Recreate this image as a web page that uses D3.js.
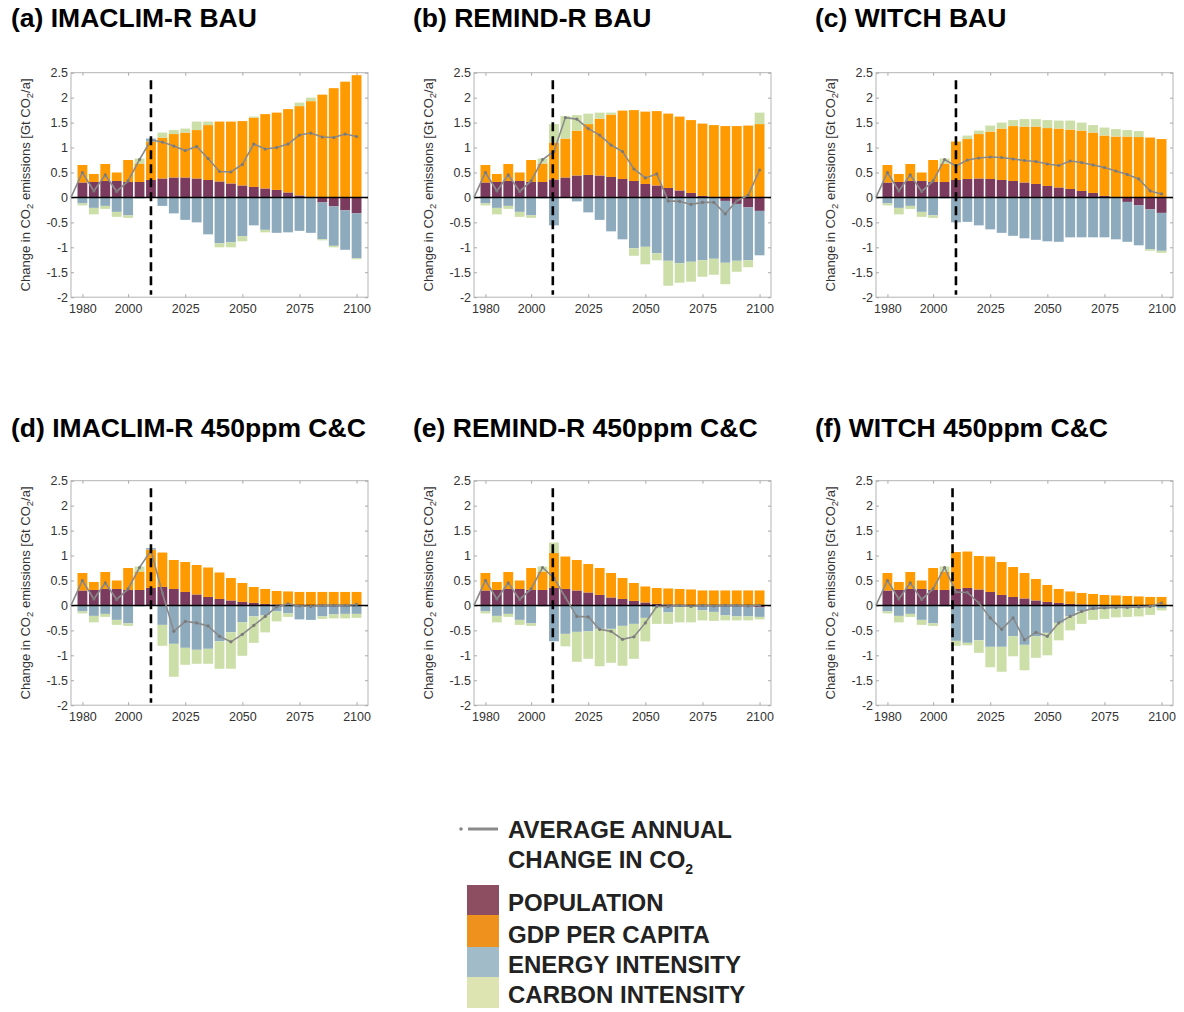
<!DOCTYPE html>
<html>
<head>
<meta charset="utf-8">
<script src="https://cdn.jsdelivr.net/npm/d3@7"></script>
<style>
  body { margin: 0; background: #fff; }
  svg { display: block; }
  text { font-family: "Liberation Sans", Arial, sans-serif; }
</style>
</head>
<body>
<svg id="chart" width="1184" height="1012"></svg>
<script>
// categories
const years = [1980, 1985, 1990, 1995, 2000, 2005, 2010, 2015, 2020, 2025, 2030, 2035, 2040,
               2045, 2050, 2055, 2060, 2065, 2070, 2075, 2080, 2085, 2090, 2095, 2100];
const xTickLabels = [1980, 2000, 2025, 2050, 2075, 2100];
const yTickLabels = [-2, -1.5, -1, -0.5, 0, 0.5, 1, 1.5, 2, 2.5];
const panelTitles = ['(a) IMACLIM-R BAU', '(b) REMIND-R BAU', '(c) WITCH BAU',
                     '(d) IMACLIM-R 450ppm C&C', '(e) REMIND-R 450ppm C&C', '(f) WITCH 450ppm C&C'];
const dashYears = [2010, 2009.5, 2010, 2010, 2009.5, 2008.5];

// history 1980-2005, shared by all panels
const histPop    = [0.30, 0.31, 0.33, 0.33, 0.31, 0.31];
const histGdp    = [0.35, 0.16, 0.34, 0.17, 0.44, 0.37];
const histEnergy = [-0.12, -0.21, -0.17, -0.29, -0.36, -0.02];
const histCarbon = [-0.04, -0.13, -0.06, -0.10, -0.05, 0.10];
const histLine   = [0.50, 0.13, 0.45, 0.12, 0.33, 0.76];

// 2010-2100, one set per panel
const imaclimBauPop    = [0.35, 0.38, 0.40, 0.40, 0.38, 0.35, 0.32, 0.28, 0.24, 0.21, 0.18, 0.15, 0.10, 0.04, 0.01, -0.10, -0.18, -0.26, -0.32];
const imaclimBauGdp    = [0.77, 0.82, 0.87, 0.90, 0.97, 1.10, 1.20, 1.24, 1.29, 1.39, 1.49, 1.55, 1.67, 1.79, 1.92, 2.06, 2.19, 2.32, 2.45];
const imaclimBauEnergy = [0.06, -0.17, -0.32, -0.45, -0.50, -0.74, -0.92, -0.90, -0.78, -0.56, -0.65, -0.71, -0.70, -0.67, -0.71, -0.74, -0.79, -0.79, -0.90];
const imaclimBauCarbon = [0, 0.10, 0.08, 0.08, 0.17, 0.07, -0.08, -0.10, -0.10, 0.02, -0.05, 0, 0, 0.07, 0.07, -0.02, -0.03, 0, -0.02];
const imaclimBauLine   = [1.15, 1.11, 1.03, 0.94, 1.02, 0.78, 0.52, 0.51, 0.66, 1.07, 0.97, 1.00, 1.07, 1.25, 1.29, 1.21, 1.20, 1.27, 1.22];

const remindBauPop    = [0.36, 0.40, 0.44, 0.45, 0.44, 0.41, 0.37, 0.33, 0.27, 0.24, 0.19, 0.14, 0.09, 0.03, 0.01, -0.07, -0.13, -0.20, -0.27];
const remindBauGdp    = [0.74, 0.78, 0.90, 1.02, 1.14, 1.25, 1.37, 1.42, 1.45, 1.49, 1.49, 1.48, 1.46, 1.45, 1.44, 1.43, 1.43, 1.44, 1.47];
const remindBauEnergy = [-0.56, 0, -0.08, -0.30, -0.45, -0.68, -0.84, -1.02, -0.99, -1.12, -1.27, -1.32, -1.29, -1.26, -1.23, -1.24, -1.14, -1.06, -0.89];
const remindBauCarbon = [0.37, 0.45, 0.31, 0.21, 0.12, 0.04, 0, -0.15, -0.35, -0.14, -0.50, -0.39, -0.40, -0.33, -0.32, -0.43, -0.22, -0.14, 0.23];
const remindBauLine   = [0.92, 1.60, 1.57, 1.38, 1.25, 1.05, 0.92, 0.57, 0.39, 0.47, -0.07, -0.08, -0.14, -0.10, -0.10, -0.33, -0.07, 0.04, 0.55];

const witchBauPop    = [0.35, 0.37, 0.38, 0.37, 0.35, 0.33, 0.30, 0.27, 0.23, 0.20, 0.17, 0.13, 0.09, 0.03, 0.01, -0.09, -0.16, -0.24, -0.31];
const witchBauGdp    = [0.77, 0.80, 0.89, 0.95, 1.03, 1.10, 1.12, 1.15, 1.16, 1.18, 1.19, 1.21, 1.21, 1.21, 1.21, 1.22, 1.21, 1.20, 1.17];
const witchBauEnergy = [-0.50, -0.49, -0.56, -0.64, -0.71, -0.77, -0.82, -0.85, -0.88, -0.89, -0.80, -0.80, -0.80, -0.80, -0.84, -0.80, -0.80, -0.80, -0.76];
const witchBauCarbon = [0, 0.07, 0.07, 0.12, 0.12, 0.12, 0.15, 0.15, 0.16, 0.16, 0.18, 0.16, 0.15, 0.16, 0.15, 0.13, 0.12, -0.03, -0.04];
const witchBauLine   = [0.63, 0.75, 0.79, 0.81, 0.80, 0.77, 0.74, 0.72, 0.67, 0.64, 0.73, 0.70, 0.65, 0.60, 0.53, 0.46, 0.37, 0.13, 0.07];

const imaclimCcPop    = [0.35, 0.37, 0.33, 0.27, 0.22, 0.17, 0.13, 0.10, 0.07, 0.05, 0.03, 0.02, 0.01, 0, 0, -0.01, -0.01, -0.01, -0.01];
const imaclimCcGdp    = [0.77, 0.69, 0.58, 0.60, 0.59, 0.59, 0.53, 0.45, 0.38, 0.32, 0.30, 0.27, 0.27, 0.27, 0.27, 0.27, 0.27, 0.27, 0.27];
const imaclimCcEnergy = [0.03, -0.39, -0.77, -0.85, -0.89, -0.87, -0.72, -0.54, -0.34, -0.22, -0.20, -0.12, -0.16, -0.28, -0.29, -0.21, -0.17, -0.16, -0.16];
const imaclimCcCarbon = [0, -0.42, -0.66, -0.34, -0.28, -0.30, -0.55, -0.73, -0.67, -0.53, -0.34, -0.20, -0.07, 0, 0, -0.05, -0.08, -0.09, -0.08];
const imaclimCcLine   = [1.10, 0.25, -0.52, -0.32, -0.35, -0.41, -0.62, -0.73, -0.58, -0.40, -0.22, -0.03, 0.03, -0.01, -0.02, 0, 0, 0, 0.02];

const remindCcPop    = [0.35, 0.33, 0.30, 0.26, 0.21, 0.16, 0.13, 0.09, 0.06, 0.03, 0.02, 0.01, 0, 0, 0, -0.01, -0.01, -0.02, -0.04];
const remindCcGdp    = [0.70, 0.65, 0.61, 0.57, 0.54, 0.49, 0.42, 0.36, 0.32, 0.32, 0.32, 0.32, 0.32, 0.30, 0.30, 0.30, 0.30, 0.30, 0.30];
const remindCcEnergy = [-0.72, -0.57, -0.53, -0.52, -0.47, -0.47, -0.41, -0.37, -0.25, -0.03, -0.14, -0.03, -0.02, -0.10, -0.13, -0.19, -0.21, -0.20, -0.19];
const remindCcCarbon = [0.21, -0.25, -0.60, -0.55, -0.75, -0.68, -0.80, -0.70, -0.47, -0.34, -0.23, -0.31, -0.32, -0.20, -0.18, -0.10, -0.08, -0.08, -0.05];
const remindCcLine   = [0.55, 0.16, -0.22, -0.23, -0.48, -0.52, -0.68, -0.63, -0.35, -0.02, -0.02, 0, -0.02, 0, -0.01, 0, 0, -0.01, 0];

const witchCcPop    = [0.33, 0.35, 0.32, 0.27, 0.21, 0.17, 0.14, 0.10, 0.07, 0.05, 0.03, 0.02, 0.01, 0, 0, 0, 0, 0, 0];
const witchCcGdp    = [0.74, 0.73, 0.67, 0.71, 0.66, 0.60, 0.51, 0.43, 0.34, 0.28, 0.25, 0.23, 0.22, 0.21, 0.20, 0.19, 0.18, 0.17, 0.17];
const witchCcEnergy = [-0.71, -0.75, -0.70, -0.83, -0.83, -0.62, -0.79, -0.62, -0.55, -0.35, -0.22, -0.12, -0.09, -0.07, -0.06, -0.05, -0.05, -0.03, -0.05];
const witchCcCarbon = [-0.10, -0.05, -0.25, -0.41, -0.50, -0.40, -0.51, -0.43, -0.45, -0.35, -0.28, -0.25, -0.20, -0.20, -0.18, -0.18, -0.17, -0.16, -0.05];
const witchCcLine   = [0.27, 0.26, 0.05, -0.25, -0.48, -0.25, -0.69, -0.54, -0.62, -0.35, -0.22, -0.12, -0.06, -0.05, -0.04, -0.04, -0.03, -0.02, 0.05];

// line starts at the left edge of every panel
const lineStartYear = 1975;
const lineStartValue = 0;

const legendLabels = ['POPULATION', 'GDP PER CAPITA', 'ENERGY INTENSITY', 'CARBON INTENSITY'];

const panelData = [
  [imaclimBauPop, imaclimBauGdp, imaclimBauEnergy, imaclimBauCarbon, imaclimBauLine],
  [remindBauPop, remindBauGdp, remindBauEnergy, remindBauCarbon, remindBauLine],
  [witchBauPop, witchBauGdp, witchBauEnergy, witchBauCarbon, witchBauLine],
  [imaclimCcPop, imaclimCcGdp, imaclimCcEnergy, imaclimCcCarbon, imaclimCcLine],
  [remindCcPop, remindCcGdp, remindCcEnergy, remindCcCarbon, remindCcLine],
  [witchCcPop, witchCcGdp, witchCcEnergy, witchCcCarbon, witchCcLine]
];

const keys = ['pop', 'gdp', 'energy', 'carbon'];
const barColors = ['#7b3b5e', '#ff9a00', '#8eabbe', '#cddfa9'];
const legendColors = ['#8d4e62', '#ef911d', '#a2bbc9', '#dee3b2'];
const color = d3.scaleOrdinal().domain(keys).range(barColors);

const svg = d3.select('#chart');
const W = 297, H = 224.5;
const colLeft = [71, 474, 876];
const rowTop = [72.7, 480.7];
const titleX = [11, 413, 815];
const titleY = [27, 437];

const x = d3.scaleLinear().domain([1975, 2105]).range([0, W]);
const y = d3.scaleLinear().domain([-2, 2.5]).range([H, 0]);
const barW = x(1979.3) - x(1975);

function styleAxis(a) {
  a.attr('font-family', null).attr('font-size', 12.5);
  a.select('.domain').remove();
  a.selectAll('line').attr('stroke', '#a8a8a8');
  a.selectAll('text').attr('fill', '#333');
}

panelData.forEach((set, i) => {
  const col = i % 3, row = Math.floor(i / 3);
  const left = colLeft[col], top = rowTop[row];

  const pop = histPop.concat(set[0]);
  const gdp = histGdp.concat(set[1]);
  const energy = histEnergy.concat(set[2]);
  const carbon = histCarbon.concat(set[3]);
  const line = histLine.concat(set[4]);

  const rows = years.map((yr, k) => ({ year: yr, pop: pop[k], gdp: gdp[k], energy: energy[k], carbon: carbon[k] }));
  const series = d3.stack().keys(keys).offset(d3.stackOffsetDiverging)(rows);

  svg.append('text')
    .attr('x', titleX[col]).attr('y', titleY[row])
    .attr('font-size', 26.5).attr('font-weight', 'bold').attr('fill', '#000')
    .text(panelTitles[i]);

  const g = svg.append('g').attr('transform', `translate(${left},${top})`);

  g.append('rect').attr('width', W).attr('height', H)
    .attr('fill', 'none').attr('stroke', '#b4b4b4');

  g.append('g')
    .call(d3.axisLeft(y).tickValues(yTickLabels).tickSize(-3).tickPadding(3).tickFormat(d => String(d)))
    .call(styleAxis);
  g.append('g').attr('transform', `translate(${W},0)`)
    .call(d3.axisRight(y).tickValues(yTickLabels).tickSize(-3).tickFormat(''))
    .call(styleAxis);
  g.append('g')
    .call(d3.axisTop(x).tickValues(xTickLabels).tickSize(-3).tickFormat(''))
    .call(styleAxis);
  g.append('g').attr('transform', `translate(0,${H})`)
    .call(d3.axisBottom(x).tickValues(xTickLabels).tickSize(-3).tickPadding(7).tickFormat(d => String(d)))
    .call(styleAxis);

  g.selectAll('g.layer').data(series).join('g')
    .attr('class', 'layer')
    .attr('fill', d => color(d.key))
    .selectAll('rect').data(d => d).join('rect')
    .attr('x', d => x(d.data.year) - barW / 2)
    .attr('y', d => y(Math.max(d[0], d[1])))
    .attr('width', barW)
    .attr('height', d => Math.abs(y(d[0]) - y(d[1])));

  g.append('line')
    .attr('x1', 0).attr('x2', W).attr('y1', y(0)).attr('y2', y(0))
    .attr('stroke', '#000').attr('stroke-width', 1.5);

  const pts = [{ year: lineStartYear, v: lineStartValue }].concat(years.map((yr, k) => ({ year: yr, v: line[k] })));
  g.append('path').datum(pts)
    .attr('fill', 'none').attr('stroke', '#8a8a8a').attr('stroke-width', 1.6)
    .attr('d', d3.line().x(d => x(d.year)).y(d => y(d.v)));
  g.selectAll('circle.pt').data(pts.slice(1)).join('circle')
    .attr('class', 'pt')
    .attr('cx', d => x(d.year)).attr('cy', d => y(d.v)).attr('r', 1.6)
    .attr('fill', '#7a7a7a');

  g.append('line')
    .attr('x1', x(dashYears[i])).attr('x2', x(dashYears[i]))
    .attr('y1', y(2.35)).attr('y2', y(-1.95))
    .attr('stroke', '#000').attr('stroke-width', 2.6).attr('stroke-dasharray', '9,5');

  const lab = svg.append('text')
    .attr('transform', `translate(${left - 41},${top + H / 2}) rotate(-90)`)
    .attr('text-anchor', 'middle').attr('font-size', 13).attr('fill', '#333');
  lab.append('tspan').text('Change in CO');
  lab.append('tspan').attr('dy', 3).attr('font-size', 9.5).text('2');
  lab.append('tspan').attr('dy', -3).text(' emissions [Gt CO');
  lab.append('tspan').attr('dy', 3).attr('font-size', 9.5).text('2');
  lab.append('tspan').attr('dy', -3).text('/a]');
});

// legend
const lg = svg.append('g');
lg.append('circle').attr('cx', 461).attr('cy', 829).attr('r', 1.8).attr('fill', '#888');
lg.append('line').attr('x1', 468).attr('x2', 498).attr('y1', 829).attr('y2', 829)
  .attr('stroke', '#8a8a8a').attr('stroke-width', 3);
lg.append('text').attr('x', 508).attr('y', 838)
  .attr('font-size', 24).attr('font-weight', 'bold').attr('fill', '#222')
  .text('AVERAGE ANNUAL');
const t2 = lg.append('text').attr('x', 508).attr('y', 868)
  .attr('font-size', 24).attr('font-weight', 'bold').attr('fill', '#222');
t2.append('tspan').text('CHANGE IN CO');
t2.append('tspan').attr('dy', 6).attr('font-size', 14).text('2');

const swTop = [885, 915, 947, 977];
const swH = [30, 32, 30, 31];
const labY = [911, 943, 973, 1003];
legendLabels.forEach((name, k) => {
  lg.append('rect').attr('x', 467).attr('y', swTop[k]).attr('width', 32).attr('height', swH[k])
    .attr('fill', legendColors[k]);
  lg.append('text').attr('x', 508).attr('y', labY[k])
    .attr('font-size', 24).attr('font-weight', 'bold').attr('fill', '#222')
    .text(name);
});
</script>
</body>
</html>
